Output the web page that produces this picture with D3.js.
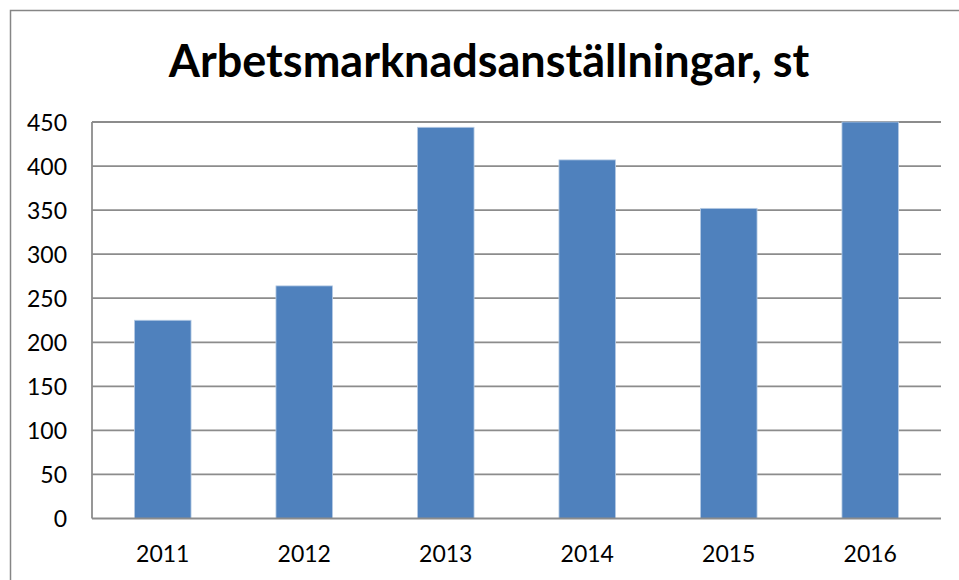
<!DOCTYPE html>
<html>
<head>
<meta charset="utf-8">
<script src="https://cdn.jsdelivr.net/npm/d3@7"></script>
<style>
  body { margin: 0; background: #fff; }
  text { font-family: Lato, "Open Sans", sans-serif; fill: #000; }
</style>
</head>
<body>
<div id="chart"></div>
<script>
// data
const years = ["2011", "2012", "2013", "2014", "2015", "2016"];
const values = [225, 264, 444, 407, 352, 450];
const yTicks = [0, 50, 100, 150, 200, 250, 300, 350, 400, 450];

let margin = {top: 122, right: 18, bottom: 61.5, left: 92};
let width = 959 - margin.left - margin.right,
    height = 580 - margin.top - margin.bottom;

const root = d3.select("#chart")
              .append("svg")
                .attr("width", 959)
                .attr("height", 580);

// outer chart frame
root.append("rect")
    .attr("x", 10.5).attr("y", 10.5)
    .attr("width", 970).attr("height", 600)
    .attr("fill", "none")
    .attr("stroke", "#868686")
    .attr("stroke-width", 1.5);

// title
root.append("text")
    .attr("x", 489).attr("y", 77)
    .attr("text-anchor", "middle")
    .style("font-size", "45px")
    .style("font-weight", "bold")
    .text("Arbetsmarknadsanställningar, st");

const svg = root.append("g")
    .attr("transform", "translate(" + margin.left + "," + margin.top + ")");

// scales
let x = d3.scaleBand()
          .range([0, width])
          .domain(years)
          .padding(0);

let y = d3.scaleLinear()
          .range([height, 0])
          .domain([0, 450]);

// gridlines
svg.selectAll("gridLine")
   .data(yTicks.filter(function(d) { return d > 0; }))
   .enter()
   .append("line")
     .attr("x1", 0).attr("x2", width)
     .attr("y1", function(d) { return y(d); })
     .attr("y2", function(d) { return y(d); })
     .attr("stroke", "#8c8c8c")
     .attr("stroke-width", 1.8);

// y axis labels
const yAxis = d3.axisLeft(y).tickValues(yTicks).tickSize(0).tickPadding(25);
svg.append("g")
   .call(yAxis)
   .call(function(g) { g.select(".domain").remove(); })
   .selectAll("text")
     .style("font-size", "23px")
     .attr("dy", "0.36em");

// bars
const barW = x.bandwidth() * 0.4;
svg.selectAll("bars")
   .data(values)
   .enter()
   .append("rect")
     .attr("x", function(d, i) { return x(years[i]) + (x.bandwidth() - barW) / 2; })
     .attr("y", function(d) { return y(d); })
     .attr("width", barW)
     .attr("height", function(d) { return height - y(d); })
     .attr("fill", "#4f81bd")
     .attr("stroke", "#b9cde5")
     .attr("stroke-width", 0.8);

// axis lines
svg.append("line")
   .attr("x1", 0).attr("x2", 0)
   .attr("y1", 0).attr("y2", height)
   .attr("stroke", "#8c8c8c").attr("stroke-width", 1.8);
svg.append("line")
   .attr("x1", 0).attr("x2", width)
   .attr("y1", height).attr("y2", height)
   .attr("stroke", "#8c8c8c").attr("stroke-width", 1.8);

// x axis labels
const xAxis = d3.axisBottom(x).tickSize(0).tickPadding(27);
svg.append("g")
   .attr("transform", "translate(0," + height + ")")
   .call(xAxis)
   .call(function(g) { g.select(".domain").remove(); })
   .selectAll("text")
     .style("font-size", "23px");
</script>
</body>
</html>
